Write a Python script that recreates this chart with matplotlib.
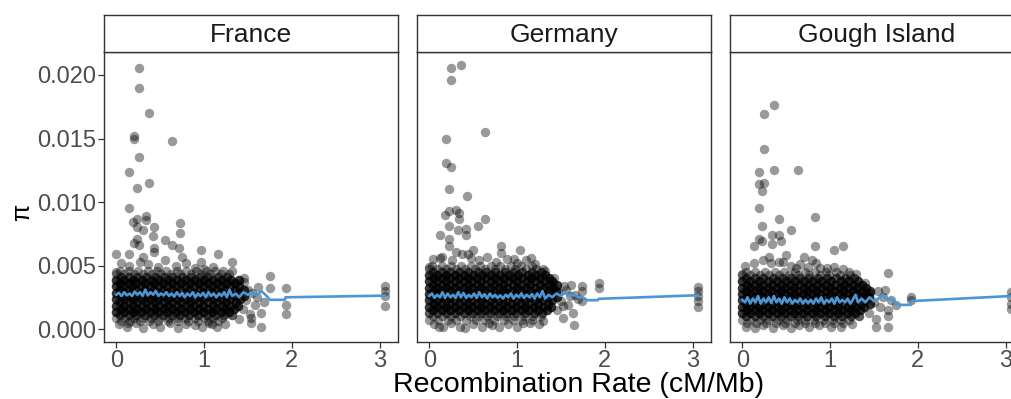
import matplotlib
matplotlib.use("Agg")
import matplotlib.pyplot as plt

plt.rcParams["font.family"] = ["Liberation Sans", "DejaVu Sans"]

panel_names = ["France", "Germany", "Gough Island"]
x_ticks = [0, 1, 2, 3]
y_ticks = [0.0, 0.005, 0.010, 0.015, 0.020]
y_tick_labels = ["0.000", "0.005", "0.010", "0.015", "0.020"]

# ---- France ----
# dense band of windows, one row of x positions per pi level (n = overplotted count)
fr_core_y = [0.0046, 0.00435, 0.0041, 0.00385, 0.0036, 0.00335, 0.0031, 0.00285, 0.0026,
             0.00235, 0.0021, 0.00185, 0.0016, 0.00135, 0.0011, 0.00085, 0.0006]
fr_core_n = [1, 1, 2, 3, 3, 3, 3, 3, 3, 3, 3, 3, 3, 3, 2, 1, 1]
fr_core_x = [
  [0.04, 0.15, 0.25, 0.36, 0.46, 0.57, 0.69, 0.8, 0.91, 1.02, 1.13],
  [0.0, 0.09, 0.2, 0.3, 0.41, 0.51, 0.62, 0.73, 0.85, 0.96, 1.07, 1.19, 1.29],
  [0.05, 0.14, 0.24, 0.34, 0.44, 0.54, 0.64, 0.75, 0.85, 0.95, 1.05, 1.16, 1.26],
  [0.0, 0.09, 0.19, 0.29, 0.39, 0.49, 0.59, 0.69, 0.8, 0.9, 1.0, 1.1, 1.21, 1.31, 1.4],
  [0.04, 0.14, 0.23, 0.33, 0.43, 0.53, 0.63, 0.74, 0.84, 0.94, 1.04, 1.15, 1.25, 1.35],
  [0.0, 0.08, 0.18, 0.28, 0.38, 0.48, 0.58, 0.68, 0.78, 0.89, 0.99, 1.09, 1.19, 1.3, 1.4],
  [0.04, 0.13, 0.23, 0.33, 0.43, 0.53, 0.63, 0.73, 0.83, 0.94, 1.04, 1.14, 1.24, 1.35, 1.46],
  [0.0, 0.09, 0.18, 0.28, 0.38, 0.48, 0.58, 0.68, 0.79, 0.89, 0.99, 1.09, 1.19, 1.29, 1.4],
  [0.05, 0.14, 0.23, 0.33, 0.43, 0.53, 0.64, 0.74, 0.84, 0.94, 1.04, 1.14, 1.25, 1.35, 1.45],
  [0.0, 0.09, 0.19, 0.29, 0.38, 0.48, 0.59, 0.69, 0.79, 0.89, 0.99, 1.1, 1.2, 1.3, 1.41],
  [0.04, 0.14, 0.24, 0.34, 0.44, 0.54, 0.64, 0.74, 0.84, 0.94, 1.05, 1.15, 1.25, 1.36],
  [0.0, 0.09, 0.19, 0.29, 0.39, 0.49, 0.59, 0.69, 0.79, 0.89, 0.99, 1.1, 1.2, 1.3, 1.39],
  [0.05, 0.14, 0.24, 0.34, 0.44, 0.54, 0.64, 0.74, 0.84, 0.94, 1.04, 1.14, 1.24, 1.34],
  [0.0, 0.09, 0.19, 0.28, 0.38, 0.48, 0.58, 0.68, 0.78, 0.89, 0.99, 1.09, 1.19, 1.29],
  [0.04, 0.14, 0.23, 0.33, 0.43, 0.53, 0.63, 0.73, 0.83, 0.93, 1.03, 1.13, 1.23, 1.32],
  [0.0, 0.1, 0.2, 0.3, 0.4, 0.5, 0.6, 0.7, 0.8, 0.9, 1.0, 1.1, 1.2],
  [0.05, 0.16, 0.27, 0.37, 0.48, 0.59, 0.7, 0.82, 0.93, 1.04, 1.16],
]
fr_fringe_x = [0.05, 0.15, 0.27, 0.36, 0.48, 0.55, 0.68, 0.8, 0.9, 1.0, 1.1, 1.22,
               0.03, 0.12, 0.22, 0.31, 0.42, 0.5, 0.61, 0.7, 0.79, 0.9, 0.98, 1.06, 1.15, 1.24,
               1.45, 1.5, 1.48, 1.55, 1.58, 1.62, 1.44, 1.52, 1.6, 1.68, 1.4]
fr_fringe_y = [0.0052, 0.005, 0.0053, 0.0051, 0.0049, 0.0054, 0.005, 0.0052, 0.0048, 0.0047, 0.0049, 0.0046,
               0.0004, 0.0002, 0.0005, 0.0001, 0.0004, 0.0002, 0.0005, 0.0001, 0.0004, 0.0003, 0.0002, 0.0005, 0.0002, 0.0004,
               0.0037, 0.0031, 0.0023, 0.0028, 0.0019, 0.0033, 0.0016, 0.0012, 0.0025, 0.0021, 0.0008]
fr_out_x = [0.26, 0.26, 0.37, 0.2, 0.2, 0.63, 0.26, 0.14, 0.24, 0.37,
            0.14, 0.19, 0.24, 0.34, 0.34, 0.24, 0.43, 0.73, 0.73, 0.42,
            0.24, 0.26, 0.56, 0.64, 0.43, 0.43, 0.72, 0.97, 1.16, 0.0,
            0.14, 0.3, 0.75, 0.97, 1.32, 1.32, 1.45, 1.75, 1.75, 1.93,
            1.93, 1.93, 1.65, 1.65, 1.53, 1.53, 1.09, 0.13, 0.0, 3.06,
            3.06, 3.06, 3.06, 0.3, 0.2]
fr_out_y = [0.02057, 0.01898, 0.017, 0.0152, 0.015, 0.0148, 0.01356, 0.0124, 0.0111, 0.01146,
            0.00953, 0.0084, 0.0087, 0.0089, 0.0086, 0.008, 0.008, 0.00835, 0.0076, 0.0073,
            0.0071, 0.0066, 0.007, 0.0066, 0.0064, 0.0061, 0.0064, 0.0062, 0.0059, 0.0059,
            0.0059, 0.0057, 0.0057, 0.0053, 0.0053, 0.0046, 0.004, 0.0042, 0.0032, 0.0032,
            0.0019, 0.0012, 0.0013, 0.0002, 0.0009, 0.0005, 0.0004, 0.0005, 0.0045, 0.0034,
            0.003, 0.0026, 0.0018, 0.0078, 0.0068]
fr_line_x = [0.0, 0.03, 0.06, 0.09, 0.12, 0.15, 0.18, 0.21, 0.24, 0.27,
             0.3, 0.33, 0.36, 0.39, 0.42, 0.45, 0.48, 0.51, 0.54, 0.57,
             0.6, 0.63, 0.66, 0.69, 0.72, 0.75, 0.78, 0.81, 0.84, 0.87,
             0.9, 0.93, 0.96, 0.99, 1.02, 1.05, 1.08, 1.11, 1.14, 1.17,
             1.2, 1.23, 1.26, 1.29, 1.32, 1.36, 1.4, 1.45, 1.5, 1.55,
             1.6, 1.65, 1.7, 1.75, 1.92, 1.93, 3.06]
fr_line_y = [0.0027, 0.00285, 0.0026, 0.0029, 0.00265, 0.0028, 0.0026, 0.00295, 0.0027, 0.0029,
             0.0026, 0.0031, 0.00265, 0.0029, 0.0027, 0.003, 0.0026, 0.0028, 0.00265, 0.0029,
             0.0026, 0.0028, 0.00255, 0.0029, 0.0026, 0.00285, 0.0025, 0.0028, 0.0026, 0.0029,
             0.0025, 0.0028, 0.0026, 0.00285, 0.0025, 0.0029, 0.0026, 0.0028, 0.0025, 0.0028,
             0.0026, 0.0029, 0.0025, 0.0031, 0.0026, 0.0028, 0.0025, 0.0029, 0.0027, 0.0029,
             0.0026, 0.003, 0.0027, 0.0023, 0.0023, 0.0025, 0.00263]

# ---- Germany ----
de_core_y = [0.005, 0.00475, 0.0045, 0.00425, 0.004, 0.00375, 0.0035, 0.00325, 0.003,
             0.00275, 0.0025, 0.00225, 0.002, 0.00175, 0.0015, 0.00125, 0.001, 0.00075]
de_core_n = [1, 1, 2, 3, 3, 3, 3, 3, 3, 3, 3, 3, 3, 3, 3, 2, 1, 1]
de_core_x = [
  [0.03, 0.14, 0.25, 0.36, 0.47, 0.58, 0.7, 0.81, 0.93, 1.05, 1.17],
  [0.0, 0.09, 0.19, 0.3, 0.41, 0.52, 0.63, 0.75, 0.86, 0.98, 1.1, 1.22, 1.3],
  [0.04, 0.14, 0.24, 0.34, 0.44, 0.55, 0.65, 0.75, 0.86, 0.96, 1.06, 1.17, 1.27],
  [0.0, 0.09, 0.19, 0.29, 0.39, 0.5, 0.6, 0.7, 0.81, 0.91, 1.01, 1.12, 1.22, 1.32],
  [0.05, 0.14, 0.24, 0.34, 0.44, 0.54, 0.65, 0.75, 0.85, 0.95, 1.06, 1.16, 1.26, 1.36],
  [0.0, 0.09, 0.19, 0.29, 0.39, 0.49, 0.59, 0.7, 0.8, 0.9, 1.0, 1.11, 1.21, 1.31, 1.4],
  [0.04, 0.14, 0.24, 0.34, 0.44, 0.54, 0.64, 0.74, 0.84, 0.95, 1.05, 1.15, 1.26, 1.36, 1.45],
  [0.0, 0.09, 0.19, 0.29, 0.39, 0.49, 0.59, 0.69, 0.79, 0.89, 1.0, 1.1, 1.2, 1.31, 1.41],
  [0.05, 0.14, 0.24, 0.34, 0.44, 0.54, 0.64, 0.74, 0.84, 0.94, 1.04, 1.15, 1.25, 1.35, 1.44],
  [0.0, 0.09, 0.19, 0.29, 0.39, 0.49, 0.59, 0.69, 0.79, 0.89, 0.99, 1.1, 1.2, 1.3, 1.4],
  [0.04, 0.14, 0.24, 0.34, 0.44, 0.54, 0.64, 0.74, 0.84, 0.94, 1.05, 1.15, 1.25, 1.35, 1.46],
  [0.0, 0.09, 0.19, 0.29, 0.39, 0.49, 0.59, 0.69, 0.79, 0.89, 0.99, 1.09, 1.2, 1.3, 1.4],
  [0.05, 0.14, 0.24, 0.34, 0.44, 0.54, 0.64, 0.74, 0.84, 0.94, 1.04, 1.14, 1.24, 1.35],
  [0.0, 0.09, 0.19, 0.29, 0.39, 0.49, 0.59, 0.69, 0.79, 0.89, 0.99, 1.09, 1.19, 1.3, 1.39],
  [0.04, 0.14, 0.24, 0.34, 0.44, 0.54, 0.64, 0.74, 0.84, 0.94, 1.04, 1.14, 1.24, 1.34],
  [0.0, 0.09, 0.19, 0.29, 0.39, 0.49, 0.59, 0.69, 0.79, 0.89, 0.99, 1.09, 1.19, 1.29],
  [0.04, 0.15, 0.25, 0.35, 0.46, 0.56, 0.66, 0.77, 0.87, 0.97, 1.08, 1.18, 1.27],
  [0.0, 0.1, 0.21, 0.31, 0.42, 0.53, 0.63, 0.74, 0.85, 0.95, 1.06, 1.17],
]
de_fringe_x = [0.04, 0.14, 0.26, 0.37, 0.47, 0.57, 0.66, 0.76, 0.88, 1.0, 1.1, 1.2, 0.5, 0.31,
               0.05, 0.16, 0.25, 0.35, 0.5, 0.6, 0.68, 0.8, 0.9, 1.0, 1.15, 1.3,
               1.42, 1.47, 1.5, 1.56, 1.6, 1.45, 1.58, 1.66, 1.7, 1.62]
de_fringe_y = [0.0055, 0.0057, 0.0054, 0.0059, 0.0056, 0.0054, 0.0057, 0.0053, 0.0055, 0.0052, 0.0054, 0.0051, 0.0062, 0.0061,
               0.0004, 0.0002, 0.0005, 0.0002, 0.0004, 0.0002, 0.0005, 0.0002, 0.0004, 0.0002, 0.0005, 0.0006,
               0.004, 0.0029, 0.0022, 0.0031, 0.0026, 0.0015, 0.0019, 0.0027, 0.0024, 0.0035]
de_out_x = [0.25, 0.36, 0.25, 0.63, 0.19, 0.19, 0.25, 0.23, 0.43, 0.175,
            0.23, 0.3, 0.34, 0.34, 0.63, 0.225, 0.126, 0.33, 0.42, 0.42,
            0.55, 0.23, 0.22, 0.82, 0.82, 1.03, 1.16, 0.97, 0.44, 0.0,
            0.12, 1.32, 1.41, 1.53, 1.74, 1.93, 1.93, 1.52, 1.52, 1.64,
            1.65, 1.74, 1.07, 1.25, 0.71, 0.11, 0.41, 1.74, 3.06, 3.06,
            3.06, 3.06, 3.06]
de_out_y = [0.02053, 0.0208, 0.0196, 0.0155, 0.01495, 0.01306, 0.01275, 0.011, 0.0105, 0.009,
            0.0093, 0.0094, 0.0091, 0.0087, 0.0087, 0.0081, 0.0074, 0.0078, 0.0079, 0.0074,
            0.0081, 0.0071, 0.0065, 0.0065, 0.006, 0.0062, 0.0056, 0.0055, 0.0059, 0.0049,
            0.0056, 0.0046, 0.0036, 0.0034, 0.0034, 0.0036, 0.0032, 0.0018, 0.0009, 0.0013,
            0.0003, 0.0022, 0.0005, 0.0004, 0.0003, 0.0002, 0.0001, 0.003, 0.0033, 0.003,
            0.0026, 0.0022, 0.00175]
de_line_x = [0.0, 0.03, 0.06, 0.09, 0.12, 0.15, 0.18, 0.21, 0.24, 0.27,
             0.3, 0.33, 0.36, 0.39, 0.42, 0.45, 0.48, 0.51, 0.54, 0.57,
             0.6, 0.63, 0.66, 0.69, 0.72, 0.75, 0.78, 0.81, 0.84, 0.87,
             0.9, 0.93, 0.96, 0.99, 1.02, 1.05, 1.08, 1.11, 1.14, 1.17,
             1.2, 1.23, 1.26, 1.29, 1.32, 1.36, 1.4, 1.45, 1.5, 1.55,
             1.6, 1.65, 1.7, 1.75, 1.8, 1.92, 1.93, 3.06]
de_line_y = [0.0026, 0.0028, 0.00245, 0.0027, 0.0025, 0.0029, 0.00245, 0.0028, 0.0025, 0.0027,
             0.00245, 0.0029, 0.0025, 0.00285, 0.00245, 0.0027, 0.0025, 0.0028, 0.00245, 0.0029,
             0.0025, 0.00275, 0.0024, 0.0028, 0.0025, 0.0027, 0.00245, 0.00265, 0.0024, 0.0027,
             0.0025, 0.0028, 0.0024, 0.0027, 0.0025, 0.0028, 0.00245, 0.0027, 0.0025, 0.00275,
             0.0024, 0.0028, 0.0025, 0.003, 0.0024, 0.0027, 0.0025, 0.0028, 0.0026, 0.0029,
             0.0026, 0.0027, 0.0025, 0.0025, 0.00227, 0.00227, 0.00238, 0.00266]

# ---- Gough Island ----
go_core_y = [0.0045, 0.00425, 0.004, 0.00375, 0.0035, 0.00325, 0.003, 0.00275, 0.0025,
             0.00225, 0.002, 0.00175, 0.0015, 0.00125, 0.001, 0.00075, 0.0005]
go_core_n = [1, 1, 2, 3, 3, 3, 3, 3, 3, 3, 3, 3, 3, 3, 2, 1, 1]
go_core_x = [
  [0.04, 0.15, 0.26, 0.37, 0.48, 0.6, 0.71, 0.83, 0.95, 1.07],
  [0.0, 0.09, 0.2, 0.31, 0.42, 0.53, 0.64, 0.76, 0.88, 0.99, 1.11, 1.23],
  [0.04, 0.14, 0.24, 0.35, 0.45, 0.55, 0.66, 0.76, 0.86, 0.97, 1.07, 1.17, 1.27],
  [0.0, 0.09, 0.19, 0.29, 0.39, 0.5, 0.6, 0.7, 0.81, 0.91, 1.01, 1.12, 1.22, 1.32],
  [0.05, 0.14, 0.24, 0.34, 0.44, 0.54, 0.65, 0.75, 0.85, 0.95, 1.06, 1.16, 1.26, 1.36],
  [0.0, 0.09, 0.19, 0.29, 0.39, 0.49, 0.59, 0.7, 0.8, 0.9, 1.0, 1.11, 1.21, 1.31, 1.41],
  [0.04, 0.14, 0.24, 0.34, 0.44, 0.54, 0.64, 0.74, 0.84, 0.95, 1.05, 1.15, 1.26, 1.36, 1.45],
  [0.0, 0.09, 0.19, 0.29, 0.39, 0.49, 0.59, 0.69, 0.79, 0.89, 1.0, 1.1, 1.2, 1.31, 1.41],
  [0.05, 0.14, 0.24, 0.34, 0.44, 0.54, 0.64, 0.74, 0.84, 0.94, 1.04, 1.15, 1.25, 1.35, 1.44],
  [0.0, 0.09, 0.19, 0.29, 0.39, 0.49, 0.59, 0.69, 0.79, 0.89, 0.99, 1.1, 1.2, 1.3, 1.4],
  [0.04, 0.14, 0.24, 0.34, 0.44, 0.54, 0.64, 0.74, 0.84, 0.94, 1.05, 1.15, 1.25, 1.35, 1.45],
  [0.0, 0.09, 0.19, 0.29, 0.39, 0.49, 0.59, 0.69, 0.79, 0.89, 0.99, 1.09, 1.2, 1.3, 1.39],
  [0.05, 0.14, 0.24, 0.34, 0.44, 0.54, 0.64, 0.74, 0.84, 0.94, 1.04, 1.14, 1.24, 1.34],
  [0.0, 0.09, 0.19, 0.29, 0.39, 0.49, 0.59, 0.69, 0.79, 0.89, 0.99, 1.09, 1.19, 1.29],
  [0.04, 0.14, 0.24, 0.34, 0.44, 0.54, 0.64, 0.74, 0.84, 0.94, 1.04, 1.14, 1.24, 1.33],
  [0.0, 0.1, 0.2, 0.31, 0.41, 0.51, 0.62, 0.72, 0.82, 0.93, 1.03, 1.13, 1.22],
  [0.05, 0.16, 0.27, 0.38, 0.49, 0.6, 0.72, 0.83, 0.94, 1.05, 1.15],
]
go_fringe_x = [0.03, 0.13, 0.24, 0.33, 0.46, 0.55, 0.66, 0.75, 0.88, 1.05, 1.15, 1.22, 0.3, 0.5,
               0.04, 0.14, 0.24, 0.35, 0.46, 0.56, 0.65, 0.76, 0.87, 1.12, 1.25,
               1.4, 1.45, 1.5, 1.55, 1.6, 1.44, 1.57, 1.63, 1.7, 1.75]
go_fringe_y = [0.005, 0.0052, 0.0054, 0.0052, 0.0053, 0.005, 0.0051, 0.0049, 0.0048, 0.0049, 0.0047, 0.0045, 0.0057, 0.0058,
               0.0002, 0.0001, 0.0003, 0.0001, 0.0003, 0.0001, 0.0003, 0.0002, 0.0003, 0.0002, 0.0004,
               0.0036, 0.0028, 0.0021, 0.003, 0.0025, 0.0013, 0.0017, 0.0031, 0.0023, 0.0019]
go_out_x = [0.36, 0.25, 0.25, 0.19, 0.36, 0.63, 0.19, 0.25, 0.23, 0.19,
            0.42, 0.83, 0.23, 0.55, 0.19, 0.23, 0.34, 0.42, 0.44, 0.34,
            0.13, 0.83, 1.04, 1.15, 0.7, 0.79, 0.84, 0.61, 0.42, 0.97,
            1.66, 1.3, 1.92, 1.92, 1.52, 1.52, 1.66, 1.01, 1.66, 1.66,
            0.0, 3.06, 3.06, 3.06, 3.06]
go_out_y = [0.0176, 0.0169, 0.0142, 0.0124, 0.0125, 0.0125, 0.0114, 0.0115, 0.0109, 0.0095,
            0.0087, 0.0088, 0.0081, 0.0078, 0.0071, 0.0069, 0.0074, 0.0074, 0.0069, 0.0067,
            0.0065, 0.0065, 0.0062, 0.0065, 0.0057, 0.0054, 0.0052, 0.0048, 0.0053, 0.0048,
            0.0044, 0.0043, 0.0025, 0.0023, 0.0008, 0.0002, 0.0002, 0.0002, 0.0015, 0.001,
            0.0043, 0.0029, 0.0025, 0.002, 0.0016]
go_line_x = [0.0, 0.03, 0.06, 0.09, 0.12, 0.15, 0.18, 0.21, 0.24, 0.27,
             0.3, 0.33, 0.36, 0.39, 0.42, 0.45, 0.48, 0.51, 0.54, 0.57,
             0.6, 0.63, 0.66, 0.69, 0.72, 0.75, 0.78, 0.81, 0.84, 0.87,
             0.9, 0.93, 0.96, 0.99, 1.02, 1.05, 1.08, 1.11, 1.14, 1.17,
             1.2, 1.23, 1.26, 1.29, 1.32, 1.36, 1.4, 1.45, 1.5, 1.55,
             1.6, 1.65, 1.7, 1.75, 1.8, 1.92, 1.93, 3.06]
go_line_y = [0.0023, 0.0021, 0.0025, 0.002, 0.0024, 0.0021, 0.0026, 0.002, 0.0024, 0.0021,
             0.0025, 0.00205, 0.0026, 0.0021, 0.0024, 0.002, 0.0025, 0.0021, 0.0024, 0.002,
             0.0023, 0.0021, 0.0024, 0.002, 0.0023, 0.00205, 0.0023, 0.002, 0.0024, 0.0021,
             0.0025, 0.002, 0.0023, 0.0021, 0.0024, 0.002, 0.0025, 0.0021, 0.0023, 0.0021,
             0.0024, 0.002, 0.0023, 0.0027, 0.0021, 0.0024, 0.0021, 0.0025, 0.0022, 0.0024,
             0.0027, 0.0023, 0.0024, 0.002, 0.0019, 0.0019, 0.0022, 0.0026]

point_color = "black"
line_color = "#4b97d6"
frame_color = "#333333"
tick_color = "#4d4d4d"


def expand_core(core_y, core_n, core_x):
  xs = []
  ys = []
  for y, n, row in zip(core_y, core_n, core_x):
    for x in row:
      xs += [x] * n
      ys += [y] * n
  return xs, ys


def draw_panel(fig, left, name, core, fringe_x, fringe_y, out_x, out_y, line_x, line_y, show_y):
  width = 294 / 1011
  ax = fig.add_axes([left, 1 - 342 / 399, width, 290 / 399])

  core_x, core_y = expand_core(*core)
  xs = core_x + fringe_x + out_x
  ys = core_y + fringe_y + out_y
  ax.scatter(xs, ys, s=46, color=point_color, alpha=0.4, linewidths=0, zorder=2)
  ax.plot(line_x, line_y, color=line_color, lw=1.9, zorder=3)

  ax.set_xlim(-0.14, 3.21)
  ax.set_ylim(-0.00102, 0.02181)
  ax.set_xticks(x_ticks)
  ax.set_xticklabels([str(t) for t in x_ticks])
  ax.tick_params(axis="x", length=4, width=0.9, color=frame_color, labelsize=17,
                 labelcolor=tick_color, pad=1.5)
  if show_y:
    ax.set_yticks(y_ticks)
    ax.set_yticklabels(y_tick_labels)
    ax.tick_params(axis="y", length=4, width=0.9, color=frame_color, labelsize=17,
                   labelcolor=tick_color, pad=1.5)
  else:
    ax.set_yticks([])
  for sp in ax.spines.values():
    sp.set_color(frame_color)
    sp.set_linewidth(1.0)

  strip = fig.add_axes([left, 1 - 52 / 399, width, 37 / 399])
  strip.set_xticks([])
  strip.set_yticks([])
  for sp in strip.spines.values():
    sp.set_color(frame_color)
    sp.set_linewidth(1.0)
  strip.text(0.5, 0.47, name, ha="center", va="center", fontsize=19, color="#1a1a1a",
             transform=strip.transAxes)
  return ax


fig = plt.figure(figsize=(10.11, 3.99), dpi=100, facecolor="white")

draw_panel(fig, 104 / 1011, panel_names[0], (fr_core_y, fr_core_n, fr_core_x),
           fr_fringe_x, fr_fringe_y, fr_out_x, fr_out_y, fr_line_x, fr_line_y, True)
draw_panel(fig, 417 / 1011, panel_names[1], (de_core_y, de_core_n, de_core_x),
           de_fringe_x, de_fringe_y, de_out_x, de_out_y, de_line_x, de_line_y, False)
draw_panel(fig, 730 / 1011, panel_names[2], (go_core_y, go_core_n, go_core_x),
           go_fringe_x, go_fringe_y, go_out_x, go_out_y, go_line_x, go_line_y, False)

fig.text(579 / 1011, 1 - 385 / 399, "Recombination Rate (cM/Mb)", ha="center", va="center",
         fontsize=20.5, color="black")
fig.text(22 / 1011, 1 - 212 / 399, "π", ha="center", va="center", rotation=90,
         fontsize=18, color="black")

fig.savefig("out.png", dpi=100, facecolor="white")
